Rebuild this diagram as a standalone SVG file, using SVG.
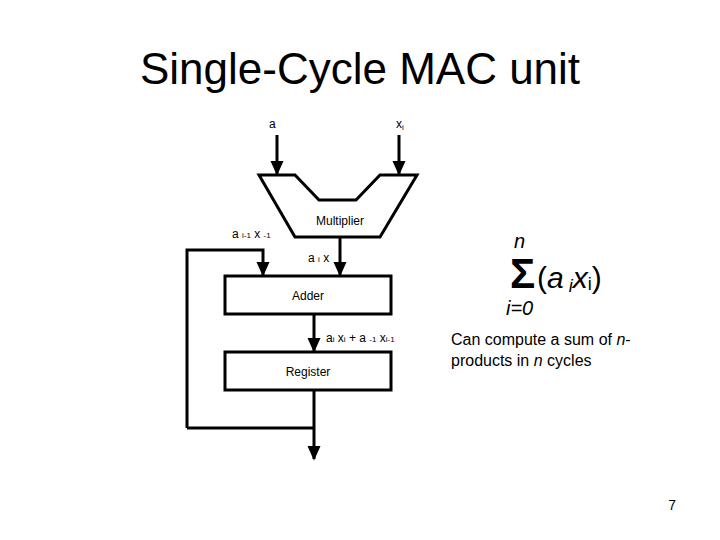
<svg xmlns="http://www.w3.org/2000/svg" width="720" height="540" viewBox="0 0 720 540">
<style>
.s{font-family:"Liberation Sans",Arial,sans-serif;fill:#000}
.sm{font-size:12px}
.ln{stroke:#000;stroke-width:3;fill:none}
.bx{stroke:#000;stroke-width:3;fill:#fff}
</style>
<defs><marker id="ah" markerWidth="5" markerHeight="4.5" refX="4.5" refY="2.25" orient="auto" markerUnits="strokeWidth"><path d="M0,0 L5,2.25 L0,4.5Z" fill="#000"/></marker></defs>
<rect width="720" height="540" fill="#fff"/>
<text class="s" x="360" y="84" font-size="44" text-anchor="middle">Single-Cycle MAC unit</text>
<g id="connectors">
<path class="ln" d="M277,135 V174" marker-end="url(#ah)"/>
<path class="ln" d="M399,135 V174" marker-end="url(#ah)"/>
<path class="ln" d="M340,237 V275" marker-end="url(#ah)"/>
<path class="ln" d="M187,428 V250 H263 V275" marker-end="url(#ah)"/>
<path class="ln" d="M314,314 V351" marker-end="url(#ah)"/>
<path class="ln" d="M314,390 V459" marker-end="url(#ah)"/>
<path class="ln" d="M187,428 H314"/>
</g>
<g id="multiplier"><path class="bx" d="M259,175 H295 L319,200 H356 L380,175 H417 L380,237 H295 Z"/><text class="s sm" x="340" y="225" text-anchor="middle">Multiplier</text></g>
<g id="adder"><rect class="bx" x="225" y="276" width="166" height="38"/><text class="s sm" x="308" y="300" text-anchor="middle">Adder</text></g>
<g id="register"><rect class="bx" x="225" y="352" width="166" height="38"/><text class="s sm" x="308" y="376" text-anchor="middle">Register</text></g>
<g id="labels" class="s sm">
<text x="269" y="128">a</text>
<text x="396" y="128">x<tspan font-size="8" dy="2">i</tspan></text>
<text x="232" y="238">a <tspan font-size="8">i-1</tspan> x <tspan font-size="8">-1</tspan></text>
<text x="308" y="262">a <tspan font-size="8">i</tspan> x</text>
<text x="326" y="342">a<tspan font-size="8">i</tspan> x<tspan font-size="8">i</tspan> + a <tspan font-size="8">-1</tspan> x<tspan font-size="8">i-1</tspan></text>
</g>
<g id="formula" class="s">
<text x="514" y="248" font-size="20" font-style="italic">n</text>
<text x="510" y="288" font-size="42" font-weight="bold">Σ</text>
<text x="537" y="288" font-size="30">(<tspan font-style="italic">a</tspan><tspan font-size="18" font-style="italic" dy="4"> i</tspan><tspan font-style="italic" dy="-4">x</tspan><tspan font-size="18" dy="2">i</tspan><tspan dy="-2">)</tspan></text>
<text x="506" y="315" font-size="20" font-style="italic">i=0</text>
<text x="451" y="345" font-size="16">Can compute a sum of <tspan font-style="italic">n</tspan>-</text>
<text x="451" y="366" font-size="16">products in <tspan font-style="italic">n</tspan> cycles</text>
</g>
<text class="s" x="676" y="510" font-size="14" text-anchor="end">7</text>
</svg>
